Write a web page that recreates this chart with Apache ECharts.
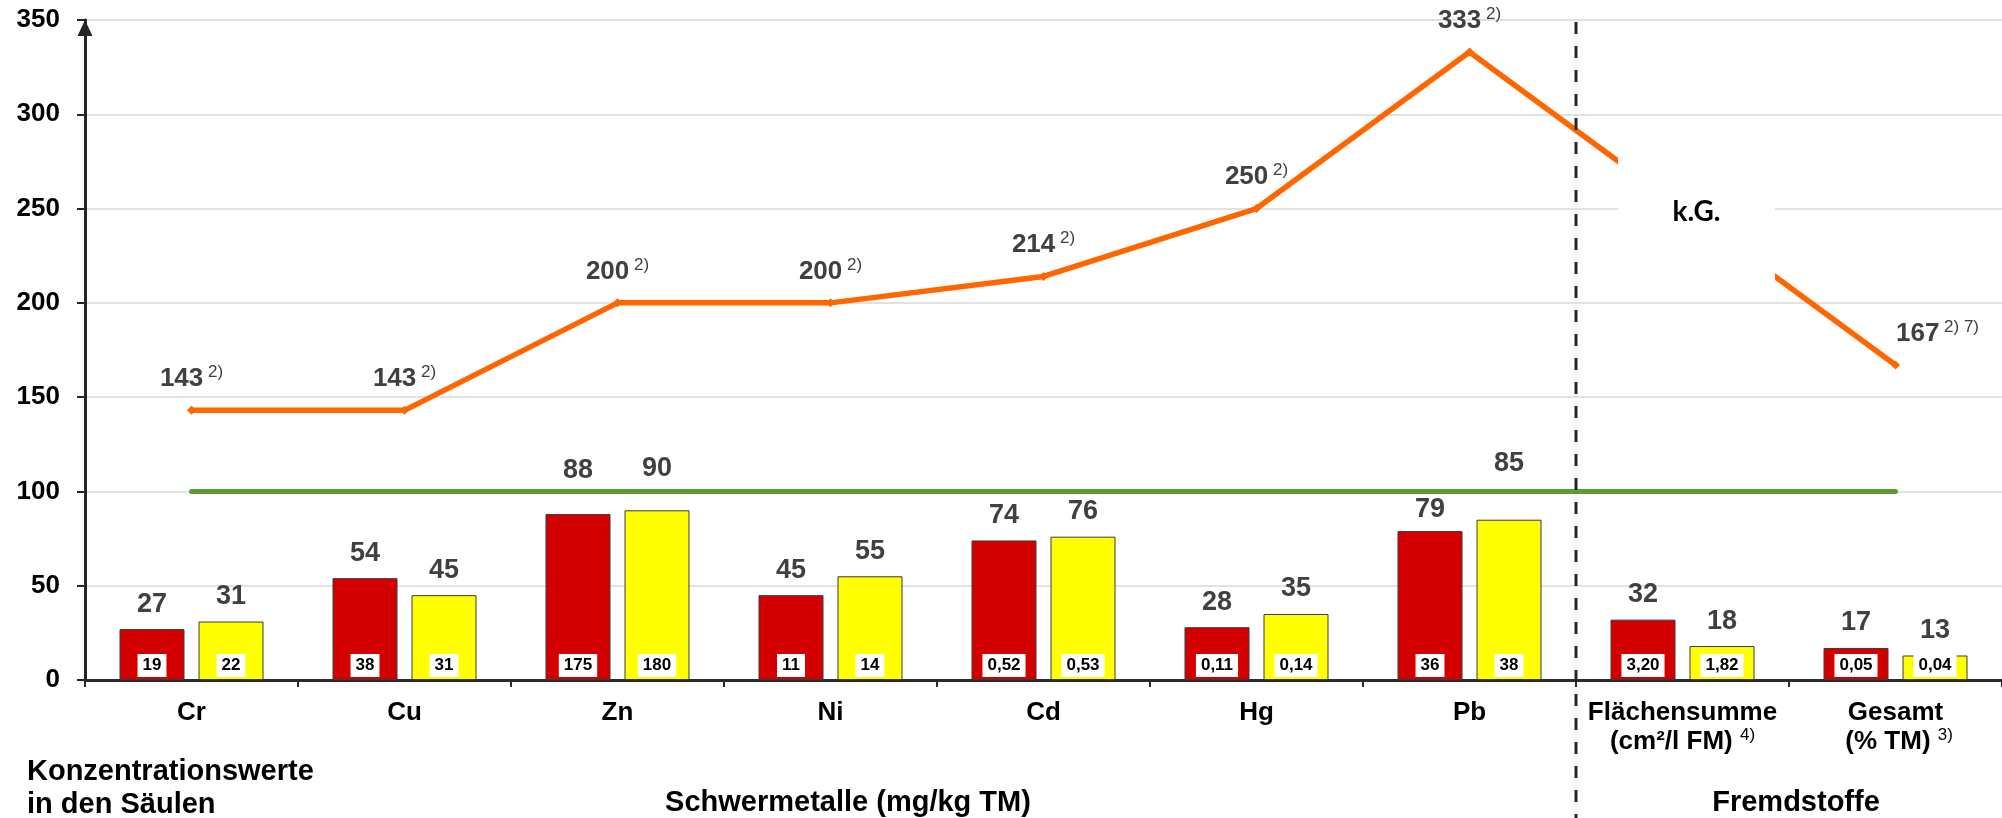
<!DOCTYPE html>
<html>
<head>
<meta charset="utf-8">
<script src="https://cdn.jsdelivr.net/npm/echarts@6/dist/echarts.min.js"></script>
<style>
html,body{margin:0;padding:0;background:#fff;}
#chart{width:2002px;height:818px;}
</style>
</head>
<body>
<div id="chart"></div>
<script>
// ---- data ----
const categories = ['Cr','Cu','Zn','Ni','Cd','Hg','Pb','Flächensumme\n(cm²/l FM)','Gesamt\n (% TM)'];
const categoryNotes = ['','','','','','','','4)','3)'];
const redValues = [27,54,88,45,74,28,79,32,17];
const yellowValues = [31,45,90,55,76,35,85,18,13];
const redConc = ['19','38','175','11','0,52','0,11','36','3,20','0,05'];
const yellowConc = ['22','31','180','14','0,53','0,14','38','1,82','0,04'];
const guideValues = [143,143,200,200,214,250,333,null,167];
const guideNotes = ['2)','2)','2)','2)','2)','2)','2)','','2) 7)'];
const limitValues = [100,100,100,100,100,100,100,100,100];
const yMin = 0, yMax = 350, yStep = 50;

// ---- styling (not data) ----
const redLabelShift = [0,0,19,0,0,0,-4,0,0];
const yellowLabelShift = [0,0,17,0,0,0,31,0,0];
const FONT = '"Liberation Sans", Arial, sans-serif';
const BAR_W = 65, BAR_GAP = 14;

const chart = echarts.init(document.getElementById('chart'), null, {renderer:'canvas'});

function barData(vals, shifts){
  return vals.map((v,i)=>({value:v, label:{offset:[0,-shifts[i]]}}));
}
function concText(x, y, t){
  return {type:'text', x:x, y:y-3, z2:10, style:{text:t, fill:'#000', font:'bold 17px ' + FONT,
    align:'center', verticalAlign:'bottom', backgroundColor:'#fff', padding:[3,5,3,5]}};
}

const option = {
  animation:false,
  grid:{left:85, right:0, top:20, bottom:138, containLabel:false},
  xAxis:{
    type:'category', data:categories, boundaryGap:true,
    axisLine:{lineStyle:{color:'#2b2b2b', width:3}},
    axisTick:{show:true, length:7, lineStyle:{color:'#2b2b2b', width:2}},
    axisLabel:{interval:0, margin:18, color:'#000', fontFamily:FONT, fontWeight:'bold', fontSize:26, lineHeight:29,
      formatter:(v,i)=> categoryNotes[i] ? v + ' {s|' + categoryNotes[i] + '}' : v,
      rich:{s:{fontSize:17, fontWeight:'normal', color:'#000', fontFamily:FONT, verticalAlign:'top', lineHeight:22}}},
    splitLine:{show:false}
  },
  yAxis:{
    type:'value', min:yMin, max:yMax, interval:yStep,
    axisLine:{show:true, symbol:['none','triangle'], symbolSize:[15,16], symbolOffset:[0,-8],
      lineStyle:{color:'#262626', width:3}},
    axisTick:{show:true, length:8, lineStyle:{color:'#262626', width:2}},
    axisLabel:{margin:25, color:'#000', fontFamily:FONT, fontWeight:'bold', fontSize:26},
    splitLine:{lineStyle:{color:'#d9d9d9', width:1.5}}
  },
  series:[
    {type:'bar', name:'rot', data:barData(redValues, redLabelShift), barWidth:BAR_W, barGap:(BAR_GAP/BAR_W*100)+'%',
      itemStyle:{color:'#d40000', borderColor:'#3a3a3a', borderWidth:1},
      label:{show:true, position:'top', distance:12, color:'#404040', fontFamily:FONT, fontWeight:'bold', fontSize:27, lineHeight:26}},
    {type:'bar', name:'gelb', data:barData(yellowValues, yellowLabelShift), barWidth:BAR_W, barGap:(BAR_GAP/BAR_W*100)+'%',
      itemStyle:{color:'#ffff00', borderColor:'#3a3a3a', borderWidth:1},
      label:{show:true, position:'top', distance:12, color:'#404040', fontFamily:FONT, fontWeight:'bold', fontSize:27, lineHeight:26}},
    {type:'custom', name:'konz', data:categories.map((c,i)=>[i,0]), encode:{x:0,y:1}, z:5,
      renderItem:(params, api)=>{
        const i = params.dataIndex;
        const p = api.coord([i, 0]);
        const half = (BAR_W + BAR_GAP)/2;
        return {type:'group', children:[concText(p[0]-half, p[1], redConc[i]), concText(p[0]+half, p[1], yellowConc[i])]};
      }},
    {type:'line', name:'grenz', data:limitValues, symbol:'none', z:3,
      lineStyle:{color:'#5e9a37', width:5, cap:'round'}},
    {type:'line', name:'orient', data:guideValues.map((v,i)=> i===guideValues.length-1 ? {value:v, label:{offset:[42,0]}} : v),
      connectNulls:true, symbol:'diamond', symbolSize:9, z:4,
      itemStyle:{color:'#ff6600'}, lineStyle:{color:'#ff6600', width:5.5},
      label:{show:true, position:'top', distance:12, fontSize:17, color:'#404040', fontFamily:FONT,
        formatter:p=> p.value==null ? '' : '{v|' + p.value + '} {s|' + guideNotes[p.dataIndex] + '}',
        rich:{v:{fontSize:26, fontWeight:'bold', color:'#404040', fontFamily:FONT, lineHeight:30},
              s:{fontSize:17, fontWeight:'normal', color:'#404040', fontFamily:FONT, verticalAlign:'top', lineHeight:20}}}}
  ]
};
chart.setOption(option);

// annotations positioned from the axes
const xPb = chart.convertToPixel({xAxisIndex:0}, 6);
const xFl = chart.convertToPixel({xAxisIndex:0}, 7);
const yTop = chart.convertToPixel({yAxisIndex:0}, yMax);
const y250 = chart.convertToPixel({yAxisIndex:0}, 250);
const xSep = (xPb + xFl)/2;
const boxCx = xFl + 14, boxCy = y250 + 3, boxW = 157, boxH = 175;

chart.setOption({graphic:[
  {type:'line', z:50, shape:{x1:xSep, y1:yTop+2, x2:xSep, y2:818},
    style:{stroke:'#262626', lineWidth:3, lineDash:[12,12]}},
  {type:'rect', z:60, shape:{x:boxCx-boxW/2, y:boxCy-boxH/2, width:boxW, height:boxH}, style:{fill:'#fff'}},
  {type:'text', z:61, x:boxCx, y:boxCy, style:{text:'k.G.', font:'bold 28px Lato, "Liberation Sans", sans-serif', fill:'#000', align:'center', verticalAlign:'middle'}},
  {type:'text', z:61, x:27, y:755, style:{text:'Konzentrationswerte\nin den Säulen', font:'bold 29px ' + FONT, fill:'#000', lineHeight:33}},
  {type:'text', z:61, x:848, y:803, style:{text:'Schwermetalle (mg/kg TM)', font:'bold 29px ' + FONT, fill:'#000', align:'center', verticalAlign:'middle'}},
  {type:'text', z:61, x:1796, y:803, style:{text:'Fremdstoffe', font:'bold 29px ' + FONT, fill:'#000', align:'center', verticalAlign:'middle'}}
]});
</script>
</body>
</html>
